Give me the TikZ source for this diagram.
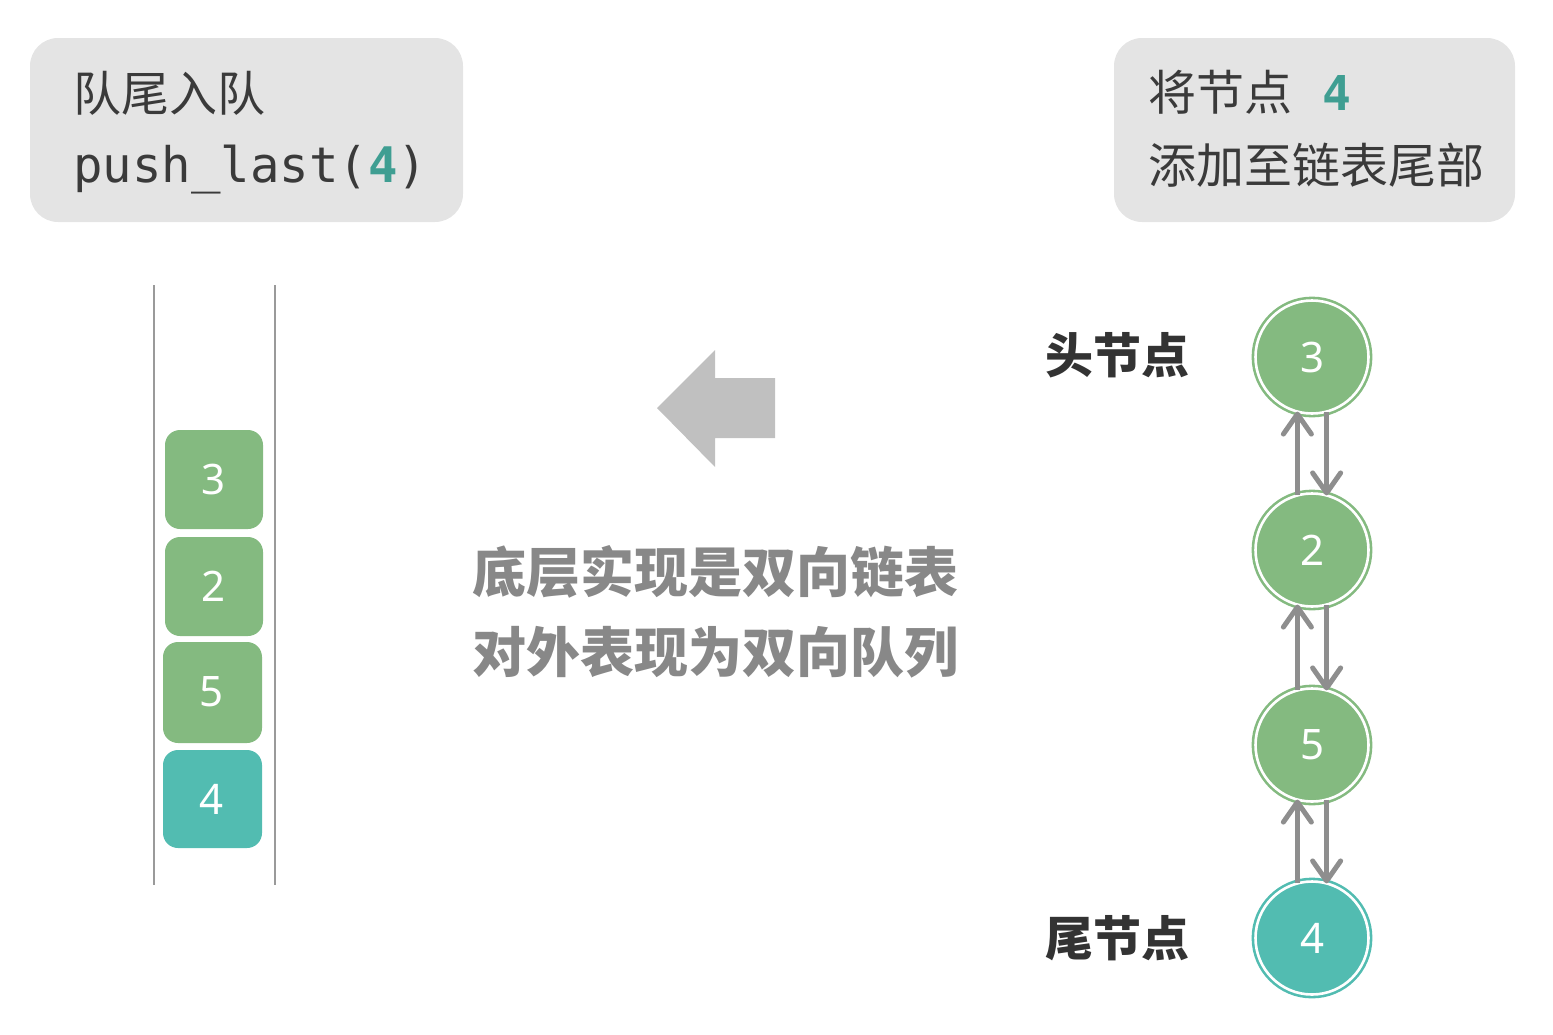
\documentclass[tikz,border=0pt]{standalone}
\usepackage{fontspec}
\usetikzlibrary{arrows.meta,calc}
\newfontfamily\cjk{Noto Sans CJK SC}
\newfontfamily\codefont{DejaVu Sans Mono}
\newfontfamily\numfont{Noto Sans}
\definecolor{nodegreen}{HTML}{84BA80}
\definecolor{nodeteal}{HTML}{52BCB1}
\definecolor{boxgray}{HTML}{E4E4E4}
\definecolor{stackline}{HTML}{9A9A9A}
\definecolor{linkgray}{HTML}{8E8E8E}
\definecolor{bigarrow}{HTML}{C0C0C0}
\definecolor{midtext}{HTML}{888888}
\definecolor{labeltext}{HTML}{333333}
\definecolor{bodytext}{HTML}{3A3A3A}
\definecolor{tealtext}{HTML}{3F9E92}
\tikzset{
  infobox/.style={draw=none, fill=boxgray, rounded corners=28pt},
  cjktext/.style={inner sep=0pt, anchor=west, text=bodytext, font=\cjk\fontsize{48}{58}\selectfont},
  codetext/.style={inner sep=0pt, anchor=base west, text=bodytext, font=\codefont\fontsize{49}{58}\selectfont},
  midlabel/.style={inner sep=0pt, text=midtext, font=\cjk\bfseries\fontsize{54}{64}\selectfont},
  sidelabel/.style={inner sep=0pt, anchor=west, text=labeltext, font=\cjk\bfseries\fontsize{48}{58}\selectfont},
  cell/.style={fill=#1, rounded corners=15pt},
  celltext/.style={text=white, font=\numfont\fontsize{42}{50}\selectfont},
  lnode/.style={circle, minimum size=113pt, inner sep=0pt, outer sep=0pt, fill=#1, draw=#1,
    line width=2.6pt, double=white, double distance=2.6pt, text=white, font=\numfont\fontsize{42}{50}\selectfont},
  link/.style={draw=linkgray, line width=5pt, -{Straight Barb[length=20pt,width=28pt,line cap=round,line join=round]}},
  wall/.style={draw=stackline, line width=2pt},
}
\begin{document}
\begin{tikzpicture}[x=1pt,y=-1pt]
\useasboundingbox (0,0) rectangle (1553,1034);
% info boxes
\fill[infobox] (30,38) rectangle (463,222);
\node[cjktext] (t1) at (73,93) {队尾入队};
\node[codetext] (t2) at (73,182) {push\_last(\textcolor{tealtext}{\bfseries 4})};
\fill[infobox] (1114,38) rectangle (1515,222);
\node[cjktext] (t3) at (1148,92) {将节点\hspace{30pt}\textcolor{tealtext}{\codefont\bfseries 4}};
\node[cjktext] (t4) at (1148,165) {添加至链表尾部};
% stack walls
\coordinate (wl1) at (154,285); \coordinate (wl2) at (154,885);
\coordinate (wr1) at (275,285); \coordinate (wr2) at (275,885);
\draw[wall] (wl1) -- (wl2);
\draw[wall] (wr1) -- (wr2);
% stack cells
\fill[cell=nodegreen] (165,430) rectangle (263,529);
\node[celltext] (c3) at (214,479) {3};
\fill[cell=nodegreen] (165,537) rectangle (263,636);
\node[celltext] (c2) at (214,586) {2};
\fill[cell=nodegreen] (163,642) rectangle (262,743);
\node[celltext] (c5) at (212,692) {5};
\fill[cell=nodeteal] (163,750) rectangle (262,848);
\node[celltext] (c4) at (212,799) {4};
% big arrow
\fill[bigarrow] (657,408) -- (715,350) -- (715,378) -- (775,378) -- (775,438) -- (715,438) -- (715,467) -- cycle;
% middle text
\node[midlabel] (m1) at (715,572) {底层实现是双向链表};
\node[midlabel] (m2) at (715,652) {对外表现为双向队列};
% linked list
\node[lnode=nodegreen] (n3) at (1312,357) {3};
\node[lnode=nodegreen] (n2) at (1312,550) {2};
\node[lnode=nodegreen] (n5) at (1312,745) {5};
\node[lnode=nodeteal] (n4) at (1312,938) {4};
\draw[link] (n2.105) -- (n3.255);
\draw[link] (n3.285) -- (n2.75);
\draw[link] (n5.105) -- (n2.255);
\draw[link] (n2.285) -- (n5.75);
\draw[link] (n4.105) -- (n5.255);
\draw[link] (n5.285) -- (n4.75);
\node[sidelabel] (head) at (1045,355) {头节点};
\node[sidelabel] (tail) at (1045,938) {尾节点};
\end{tikzpicture}
\end{document}
